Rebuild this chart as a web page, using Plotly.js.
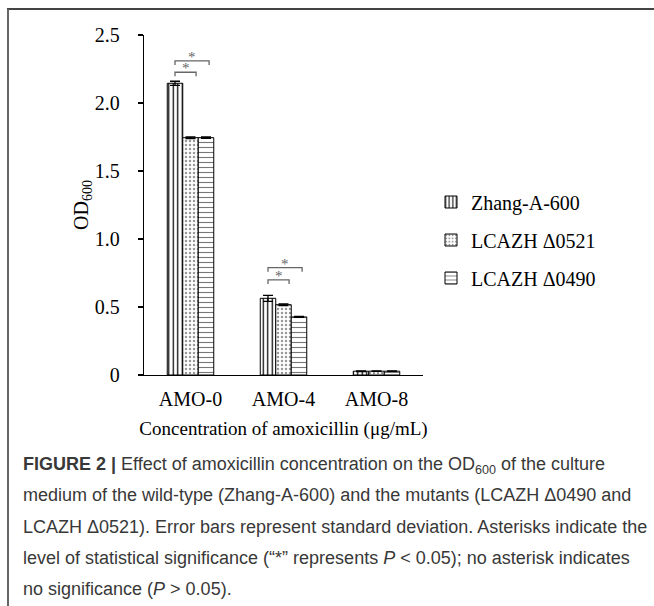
<!DOCTYPE html>
<html>
<head>
<meta charset="utf-8">
<script src="https://cdn.plot.ly/plotly-3.0.1.min.js"></script>
<style>html,body{margin:0;padding:0;background:#fff;}#chart{width:654px;height:606px;}</style>
</head>
<body>
<div id="chart"></div>
<script>
// ---- data ----
const categories = ['AMO-0', 'AMO-4', 'AMO-8'];
const seriesNames = ['Zhang-A-600', 'LCAZH \u03940521', 'LCAZH \u03940490'];
const zhangValues = [2.145, 0.564, 0.028];
const zhangSD = [0.015, 0.022, 0.003];
const d0521Values = [1.745, 0.517, 0.028];
const d0521SD = [0.006, 0.006, 0.002];
const d0490Values = [1.745, 0.427, 0.028];
const d0490SD = [0.005, 0.003, 0.002];
const yTickVals = [0, 0.5, 1, 1.5, 2, 2.5];
const yTickText = ['0', '0.5', '1.0', '1.5', '2.0', '2.5'];
// significance comparisons: category index, compared series index pair
const sigCategory = [0, 0, 1, 1];
const sigPairs = [[0, 1], [0, 2], [0, 1], [0, 2]];
const sigLabel = ['*', '*', '*', '*'];

// ---- layout geometry (pixels) ----
const W = 654, H = 606;
const L = 144, R = 423, T = 35, B = 375;
const px2x = p => (p - L) / (R - L);
const py2y = p => (B - p) / (B - T);

const serif = 'Liberation Serif, Times New Roman, serif';
const sans = 'Liberation Sans, Arial, sans-serif';

const patterns = [
  {shape: '|', fgcolor: '#000', bgcolor: '#fff', size: 4.5, solidity: 0.28},
  {shape: '.', fgcolor: '#999', bgcolor: '#fff', size: 4, solidity: 0.3},
  {shape: '-', fgcolor: '#777', bgcolor: '#fff', size: 5, solidity: 0.22}
];
const vals = [zhangValues, d0521Values, d0490Values];
const sds = [zhangSD, d0521SD, d0490SD];

const traces = seriesNames.map((n, i) => ({
  type: 'bar',
  name: n,
  x: categories,
  y: vals[i],
  legendgroup: 'g' + i,
  marker: {color: '#fff', pattern: patterns[i], line: {color: '#000', width: 1}},
  error_y: {type: 'data', array: sds[i], visible: true, color: '#000', thickness: 1.3, width: 5}
}));

// bracket geometry: x offsets within a group, heights
const barOff = [-1/6, 0, 1/6];
const rightEnd = {1: 0.06, 2: 0.2};
const bracketY = [2.226, 2.31, 0.70, 0.789];
const leg = 0.03;
const shapes = [];
const annotations = [];
sigCategory.forEach((c, k) => {
  const x0 = c + barOff[sigPairs[k][0]];
  const x1 = c + rightEnd[sigPairs[k][1]];
  const y = bracketY[k];
  shapes.push({type: 'path', xref: 'x', yref: 'y',
    path: `M${x0},${y - leg} L${x0},${y} L${x1},${y} L${x1},${y - leg}`,
    line: {color: '#666', width: 1.3}});
  annotations.push({xref: 'x', yref: 'y', x: (x0 + x1) / 2, y: y, yshift: 4,
    text: sigLabel[k], showarrow: false, font: {family: serif, size: 15, color: '#666666'}});
});

// frame
shapes.push({type: 'line', xref: 'paper', yref: 'paper', x0: px2x(7), x1: px2x(660), y0: py2y(9), y1: py2y(9), line: {color: '#444', width: 2}});
shapes.push({type: 'line', xref: 'paper', yref: 'paper', x0: px2x(8), x1: px2x(8), y0: py2y(9), y1: py2y(610), line: {color: '#666', width: 2}});

// caption
const caption = [
  '<b>FIGURE 2 |</b> Effect of amoxicillin concentration on the OD<sub>600</sub> of the culture',
  'medium of the wild-type (Zhang-A-600) and the mutants (LCAZH \u03940490 and',
  'LCAZH \u03940521). Error bars represent standard deviation. Asterisks indicate the',
  'level of statistical significance (\u201c*\u201d represents <i>P</i> &lt; 0.05); no asterisk indicates',
  'no significance (<i>P</i> &gt; 0.05).'
];
const capY = [465, 495, 527, 558, 589];
caption.forEach((t, i) => {
  annotations.push({xref: 'paper', yref: 'paper', x: px2x(21), y: py2y(capY[i]),
    xanchor: 'left', yanchor: 'middle', text: t, showarrow: false, align: 'left',
    font: {family: sans, size: 18, color: '#383838'}});
});

const layout = {
  width: W, height: H,
  margin: {l: L, r: W - R, t: T, b: H - B, pad: 0},
  paper_bgcolor: '#fff', plot_bgcolor: '#fff',
  showlegend: true,
  bargap: 0.5, bargroupgap: 0, barmode: 'group',
  font: {family: serif, size: 20, color: '#000'},
  xaxis: {
    type: 'category', range: [-0.5, 2.5], showline: true, linecolor: '#000', linewidth: 1.3,
    ticks: '', showgrid: false, zeroline: false, ticklabelstandoff: 6,
    tickfont: {family: serif, size: 20, color: '#000'},
    title: {text: 'Concentration of amoxicillin (\u03bcg/mL)', font: {family: serif, size: 19, color: '#000'}, standoff: 12},
    automargin: false
  },
  yaxis: {
    range: [0, 2.5], tickvals: yTickVals, ticktext: yTickText, showline: true, linecolor: '#000', linewidth: 1.3,
    ticks: 'outside', ticklen: 5, tickcolor: '#000', tickwidth: 1.3, showgrid: false, zeroline: false,
    ticklabelstandoff: 14,
    tickfont: {family: serif, size: 20, color: '#000'},
    title: {text: 'OD<sub>600</sub>', font: {family: serif, size: 20, color: '#000'}, standoff: 0},
    automargin: false
  },
  legend: {
    x: px2x(431), y: py2y(240), xanchor: 'left', yanchor: 'middle',
    font: {family: serif, size: 20, color: '#000'}, tracegroupgap: 9,
    bgcolor: 'rgba(0,0,0,0)', borderwidth: 0, itemclick: false
  },
  shapes: shapes,
  annotations: annotations
};

Plotly.newPlot('chart', traces, layout, {displayModeBar: false, staticPlot: true});
</script>
</body>
</html>
